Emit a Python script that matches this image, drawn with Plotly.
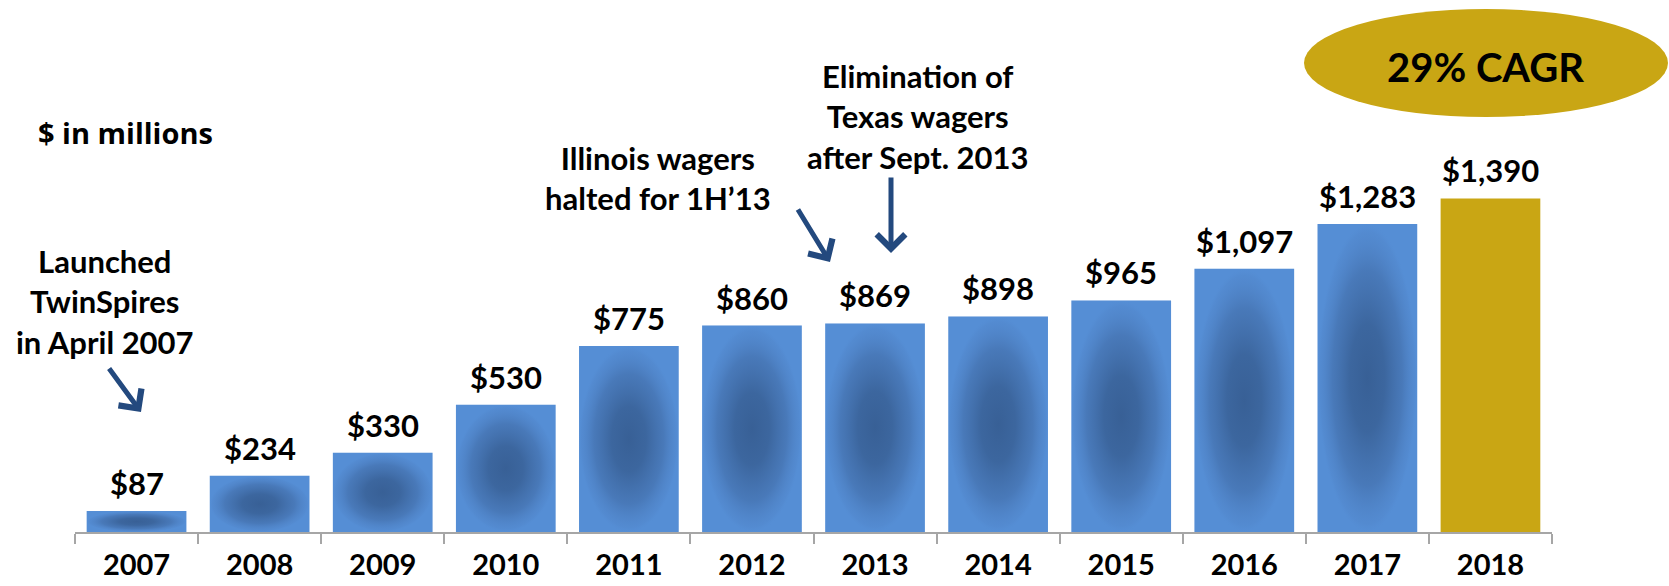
import plotly.graph_objects as go

# ---- data ----
years = ["2007", "2008", "2009", "2010", "2011", "2012", "2013", "2014", "2015", "2016", "2017", "2018"]
wagers = [87, 234, 330, 530, 775, 860, 869, 898, 965, 1097, 1283, 1390]
notes = ["Launched<br>TwinSpires<br>in April 2007",
         "Illinois wagers<br>halted for 1H\u201913",
         "Elimination of<br>Texas wagers<br>after Sept. 2013"]
unit_label = "$ in millions"
cagr_label = "29% CAGR"

# ---- geometry / style ----
W, H = 1669, 586
L, R, T, B = 75, 117, 0, 54
PW, PH = W - L - R, H - T - B
BLUE = "#558ed5"
GOLD = "#c9a614"
ARROW = "#23497e"
FONT = "Lato"
BAR_W = 0.81
YMAX = PH / 0.24


def px(x, y):
    return (x - L) / PW, (H - B - y) / PH


xs = list(range(len(years)))
colors = [BLUE] * (len(years) - 1) + [GOLD]

fig = go.Figure()
fig.add_trace(go.Bar(x=xs, y=wagers, width=BAR_W, marker=dict(color=colors, line=dict(width=0)),
                     hoverinfo="skip"))

# radial shading over the blue bars
for i, v in enumerate(wagers[:-1]):
    x0, x1 = i - BAR_W / 2, i + BAR_W / 2
    fig.add_trace(go.Scatter(
        x=[x0, x1, x1, x0, x0], y=[0, 0, v, v, 0], mode="lines", line=dict(width=0),
        fill="toself",
        fillgradient=dict(type="radial",
                          colorscale=[[0, "rgba(56,96,150,1)"], [0.35, "rgba(58,99,154,0.92)"],
                                      [0.7, "rgba(66,110,170,0.65)"], [0.95, "rgba(78,128,195,0.25)"],
                                      [1, "rgba(85,142,213,0.1)"]]),
        hoverinfo="skip", showlegend=False))

annotations = []
# value labels
for i, v in enumerate(wagers):
    annotations.append(dict(x=i, y=v, xref="x", yref="y", text=f"${v:,}", showarrow=False,
                            xanchor="center", yanchor="middle", yshift=28,
                            font=dict(family=FONT, size=31, color="black", weight=700)))

# notes
note_pos = [(105, 301), (658, 178), (918, 116)]
for t, (x, y) in zip(notes, note_pos):
    xp, yp = px(x, y)
    annotations.append(dict(x=xp, y=yp, xref="paper", yref="paper", text=t, showarrow=False,
                            align="center", xanchor="center", yanchor="middle",
                            font=dict(family=FONT, size=31, color="black", weight=700)))

# arrows (head, tail)
arrows = [((141, 412), (108, 367)), ((830, 262), (797, 208)), ((891, 253), (891, 176))]
for (hx, hy), (tx, ty) in arrows:
    xp, yp = px(hx, hy)
    annotations.append(dict(x=xp, y=yp, xref="paper", yref="paper", ax=tx - hx, ay=ty - hy,
                            text="", showarrow=True, arrowhead=4, arrowsize=1.1, arrowwidth=5,
                            arrowcolor=ARROW))

xp, yp = px(125, 132)
annotations.append(dict(x=xp, y=yp, xref="paper", yref="paper", text=unit_label, showarrow=False,
                        xanchor="center", yanchor="middle",
                        font=dict(family="Open Sans", size=29, color="black", weight=700)))
xp, yp = px(1485, 67)
annotations.append(dict(x=xp, y=yp, xref="paper", yref="paper", text=cagr_label, showarrow=False,
                        xanchor="center", yanchor="middle",
                        font=dict(family=FONT, size=40, color="black", weight=700)))

ex0, ey0 = px(1304, 117)
ex1, ey1 = px(1668, 9)
fig.add_shape(type="circle", xref="paper", yref="paper", x0=ex0, x1=ex1, y0=ey0, y1=ey1,
              fillcolor=GOLD, line=dict(width=0), layer="below")

fig.update_layout(
    width=W, height=H, margin=dict(l=L, r=R, t=T, b=B, pad=0, autoexpand=False),
    paper_bgcolor="white", plot_bgcolor="white", showlegend=False,
    annotations=annotations,
    xaxis=dict(range=[-0.5, len(years) - 0.5], tickvals=xs, ticktext=years, ticks="",
               showgrid=False, zeroline=False, showline=True, linecolor="#a6a6a6", linewidth=2,
               ticklabelstandoff=6,
               tickfont=dict(family=FONT, size=29, color="black", weight=700),
               minor=dict(tick0=0.5, dtick=1, ticks="outside", ticklen=10, tickwidth=2,
                          tickcolor="#a6a6a6", showgrid=False)),
    yaxis=dict(range=[0, YMAX], visible=False, showgrid=False, zeroline=False),
    bargap=0.19,
)

fig.write_html("out.html", config={"displayModeBar": False},
               post_script="document.body.style.margin='0';")
